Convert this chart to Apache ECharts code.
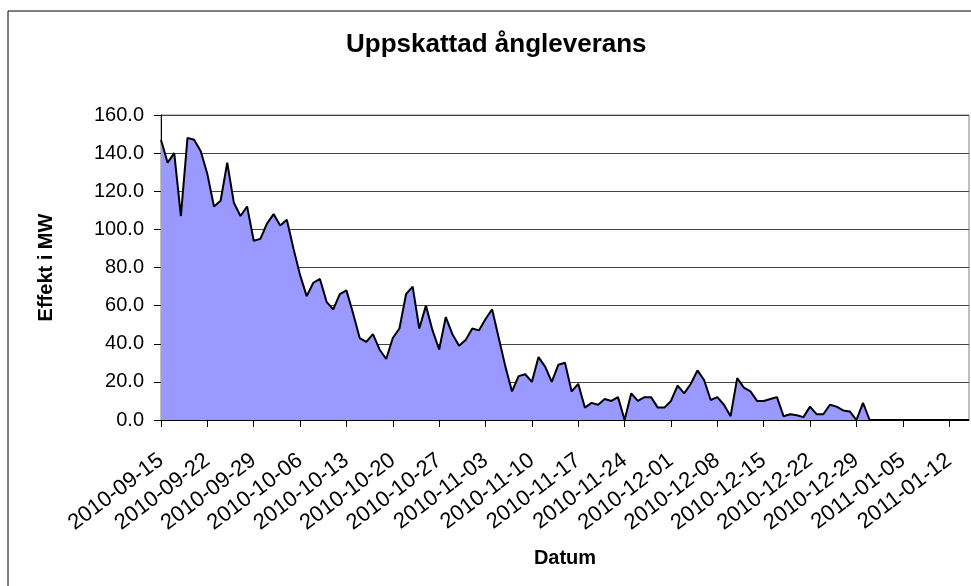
<!DOCTYPE html>
<html>
<head>
<meta charset="utf-8">
<title>Uppskattad ångleverans</title>
<script src="https://cdn.jsdelivr.net/npm/echarts@6/dist/echarts.min.js"></script>
<style>
  html, body { margin: 0; padding: 0; background: #fff; }
  #chart { width: 971px; height: 586px; }
</style>
</head>
<body>
<div id="chart"></div>
<script>
// daily values, first day 2010-09-15
const startDate = "2010-09-15";
const effekt = [
  147, 135, 140, 107, 148, 147, 141, 129, 112, 115,
  135, 114, 107, 112, 94, 95, 103, 108, 102, 105,
  90, 76, 65, 72, 74, 62, 58, 66, 68, 56,
  43, 41, 45, 37, 32, 43, 48, 66, 70, 48,
  60, 47, 37, 54, 45, 39, 42, 48, 47, 53,
  58, 43, 28, 15, 23, 24, 20, 33, 28, 20,
  29, 30, 15, 19, 6.5, 9, 8, 11, 10, 12,
  0, 14, 10, 12, 12, 6.5, 6.5, 10, 18, 14,
  19, 26, 21, 10.5, 12, 8, 2, 22, 17, 15,
  10, 10, 11, 12, 2, 3, 2.5, 1.5, 7, 3,
  3, 8, 7, 5, 4.5, 0, 9, 0, 0, 0,
  0, 0, 0, 0, 0, 0, 0, 0, 0, 0,
  0, 0, 0
];
const yTicks = [0, 20, 40, 60, 80, 100, 120, 140, 160];

// date labels, one per day
const datum = [];
const t0 = Date.parse(startDate + "T00:00:00Z");
for (let i = 0; i < effekt.length; i++) {
  datum.push(new Date(t0 + i * 86400000).toISOString().slice(0, 10));
}

const FONT = "'Liberation Sans', Arial, sans-serif";
const chart = echarts.init(document.getElementById("chart"));

chart.setOption({
  animation: false,
  backgroundColor: "#fff",
  title: {
    text: "Uppskattad ångleverans",
    left: 346,
    top: 32,
    padding: 0,
    textStyle: { fontFamily: FONT, fontSize: 26, fontWeight: "bold", color: "#000" }
  },
  // ram runt diagrammet (bara vänster/topp syns)
  graphic: [
    {
      type: "rect",
      shape: { x: 8, y: 11, width: 1000, height: 620 },
      style: { fill: "none", stroke: "#000", lineWidth: 1 },
      silent: true
    }
  ],
  grid: {
    left: 161,
    right: 2,
    top: 115,
    bottom: 166,
    show: true,
    borderColor: "#808080",
    borderWidth: 1
  },
  xAxis: {
    type: "category",
    data: datum,
    boundaryGap: false,
    name: "Datum",
    nameLocation: "middle",
    nameGap: 128,
    nameTextStyle: { fontFamily: FONT, fontSize: 20, fontWeight: "bold", color: "#000" },
    axisLine: { lineStyle: { color: "#000", width: 1 } },
    axisTick: { interval: 6, length: 7, lineStyle: { color: "#000" } },
    axisLabel: {
      interval: 6,
      rotate: 37,
      margin: 38,
      fontFamily: FONT,
      fontSize: 22,
      color: "#000"
    },
    splitLine: { show: false }
  },
  yAxis: {
    type: "value",
    min: yTicks[0],
    max: yTicks[yTicks.length - 1],
    interval: 20,
    name: "Effekt i MW",
    nameLocation: "middle",
    nameRotate: 90,
    nameGap: 105,
    nameTextStyle: { fontFamily: FONT, fontSize: 20, fontWeight: "bold", color: "#000" },
    axisLine: { show: true, lineStyle: { color: "#000", width: 1 } },
    axisTick: { show: true, length: 7, lineStyle: { color: "#000" } },
    axisLabel: {
      margin: 17,
      fontFamily: FONT,
      fontSize: 20,
      color: "#000",
      formatter: (v) => v.toFixed(1)
    },
    splitLine: { lineStyle: { color: "#444", width: 1 } }
  },
  series: [
    {
      name: "Effekt",
      type: "line",
      data: effekt,
      symbol: "none",
      lineStyle: { color: "#000", width: 2 },
      areaStyle: { color: "#9999ff", opacity: 1 }
    }
  ]
});
</script>
</body>
</html>
